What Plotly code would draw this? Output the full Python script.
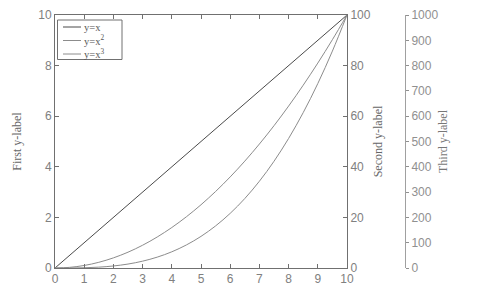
import plotly.graph_objects as go

x_vals = [0, 0.5, 1, 1.5, 2, 2.5, 3, 3.5, 4, 4.5, 5, 5.5, 6, 6.5, 7, 7.5, 8, 8.5, 9, 9.5, 10]
y_lin = [0, 0.5, 1, 1.5, 2, 2.5, 3, 3.5, 4, 4.5, 5, 5.5, 6, 6.5, 7, 7.5, 8, 8.5, 9, 9.5, 10]
y_sq = [0, 0.25, 1, 2.25, 4, 6.25, 9, 12.25, 16, 20.25, 25, 30.25, 36, 42.25, 49, 56.25,
        64, 72.25, 81, 90.25, 100]
y_cu = [0, 0.125, 1, 3.375, 8, 15.625, 27, 42.875, 64, 91.125, 125, 166.375, 216, 274.625,
        343, 421.875, 512, 614.125, 729, 857.375, 1000]
names = ["y=x", "y=x<sup>2</sup>", "y=x<sup>3</sup>"]
colors = ["#4a4a4a", "#8c8c8c", "#8c8c8c"]

axis_col = "#707070"
tick_col = "#808080"
sans = "Liberation Sans, Arial, sans-serif"
serif = "Liberation Serif, Times New Roman, serif"

fig = go.Figure()
fig.add_trace(go.Scatter(x=x_vals, y=y_lin, name=names[0], mode="lines",
                         line=dict(color=colors[0], width=1), yaxis="y"))
fig.add_trace(go.Scatter(x=x_vals, y=y_sq, name=names[1], mode="lines",
                         line=dict(color=colors[1], width=1, shape="spline"), yaxis="y2"))
fig.add_trace(go.Scatter(x=x_vals, y=y_cu, name=names[2], mode="lines",
                         line=dict(color=colors[2], width=1, shape="spline"), yaxis="y3"))

W, H = 477, 288
ml, mr, mt, mb = 55, 0, 15, 20
pw = W - ml - mr
ph = H - mt - mb
x_right = (347 - ml) / pw
y3_pos = (405 - ml) / pw


def px_x(p):
    return (p - ml) / pw


def px_y(p):
    return (H - mb - p) / ph


# manual legend (box, line samples, one multi-line label block)
shapes = [dict(type="rect", xref="paper", yref="paper",
               x0=px_x(57.5), x1=px_x(122), y0=px_y(59.5), y1=px_y(20),
               line=dict(color="#707070", width=1), fillcolor="white", layer="above")]
entry_y = [27, 40.5, 54]
for col, ey in zip(colors, entry_y):
    shapes.append(dict(type="line", xref="paper", yref="paper",
                       x0=px_x(63), x1=px_x(81), y0=px_y(ey), y1=px_y(ey),
                       line=dict(color=col, width=1), layer="above"))
annotations = [dict(xref="paper", yref="paper", x=px_x(83), y=px_y(41),
                    xanchor="left", yanchor="middle", align="left", showarrow=False,
                    borderpad=0, text="<br>".join(names),
                    font=dict(family=serif, size=10.5, color="#555555"))]

fig.update_layout(
    width=W, height=H,
    margin=dict(l=ml, r=mr, t=mt, b=mb, autoexpand=False),
    paper_bgcolor="white", plot_bgcolor="white",
    showlegend=False,
    shapes=shapes, annotations=annotations,
    xaxis=dict(domain=[0, x_right], range=[0, 10], dtick=1, ticks="inside", ticklen=4,
               tickcolor=axis_col, showline=True, linecolor=axis_col, linewidth=1,
               mirror="ticks", showgrid=False, zeroline=False,
               tickfont=dict(family=sans, size=12, color=tick_col)),
    yaxis=dict(range=[0, 10], dtick=2, ticks="inside", ticklen=4, tickcolor=axis_col,
               showline=True, linecolor=axis_col, linewidth=1, mirror=True,
               showgrid=False, zeroline=False,
               tickfont=dict(family=sans, size=12, color=tick_col),
               title=dict(text="First y-label", standoff=14,
                          font=dict(family=serif, size=12, color="#666666"))),
    yaxis2=dict(range=[0, 100], dtick=20, overlaying="y", side="right", anchor="x",
                ticks="inside", ticklen=4, tickcolor=axis_col,
                showline=True, linecolor=axis_col, linewidth=1,
                showgrid=False, zeroline=False,
                tickfont=dict(family=sans, size=12, color=tick_col),
                title=dict(text="Second y-label", standoff=3,
                           font=dict(family=serif, size=12, color="#666666"))),
    yaxis3=dict(range=[0, 1000], dtick=100, overlaying="y", side="right", anchor="free",
                position=y3_pos, ticks="outside", ticklen=3, tickcolor="#909090",
                showline=True, linecolor="#a0a0a0", linewidth=1,
                showgrid=False, zeroline=False,
                tickfont=dict(family=sans, size=12, color="#909090"),
                title=dict(text="Third y-label", standoff=1,
                           font=dict(family=serif, size=12, color="#777777"))),
)

fig.write_html("out.html")
